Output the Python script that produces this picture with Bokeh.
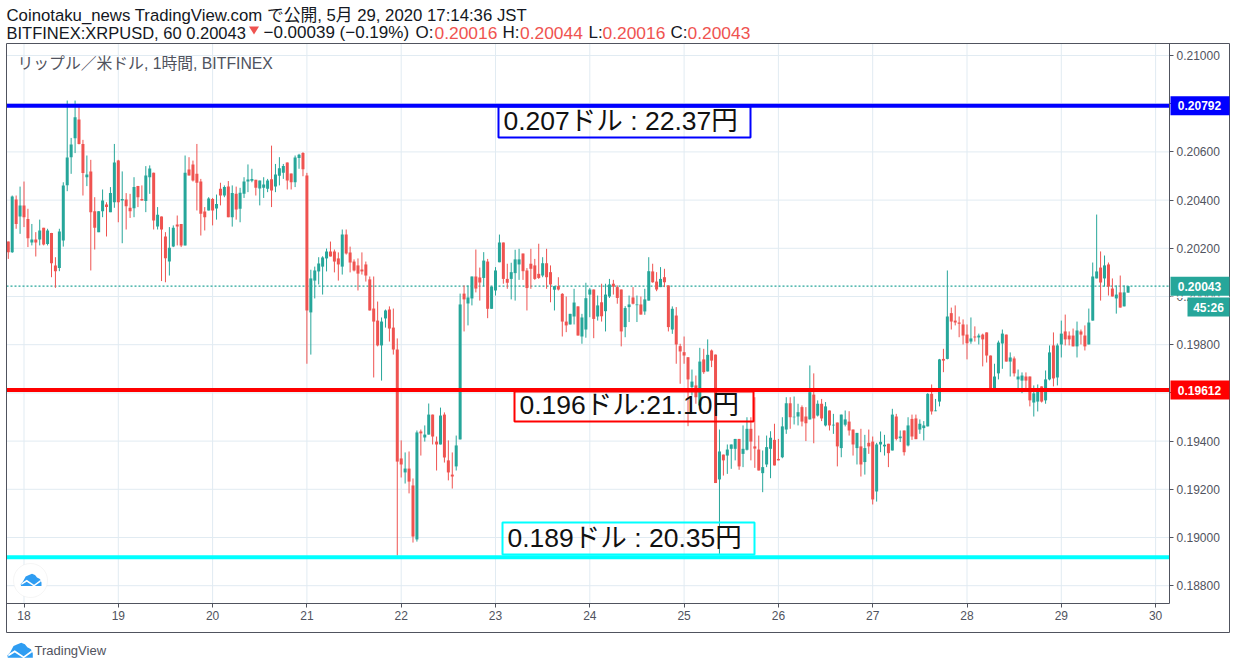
from bokeh.plotting import figure
from bokeh.embed import file_html
from bokeh.resources import INLINE
from bokeh.models import (ColumnDataSource, Range1d, LinearAxis, FixedTicker, Label,
                          BoxAnnotation, PolyAnnotation, NumeralTickFormatter)
import math

# prices in units of 0.00001 USD, one entry per hourly candle
opens = [
20228,20184,20402,20332,20378,20322,20224,20236,20236,20285,20218,20264,20129,20118,20232,20462,20578,20657,20734,20633,
20495,20519,20354,20267,20354,20382,20350,20391,20564,20398,20402,20368,20366,20459,20405,20396,20495,20514,20290,20332,
20249,20145,20207,20299,20301,20212,20527,20548,20509,20477,20353,20357,20405,20365,20447,20419,20456,20329,20426,20364,
20426,20477,20480,20484,20448,20451,20447,20487,20456,20501,20513,20556,20510,20474,20575,20595,20502,19934,20066,20104,
20124,20158,20187,20187,20158,20124,20257,20183,20145,20129,20112,20133,20071,19950,19900,19797,19909,19946,19871,19780,
19328,19270,19286,19216,18992,19440,19415,19427,19510,19398,19386,19510,19320,19261,19295,19407,20012,19971,19992,20083,
20079,20077,20145,19949,20025,20142,20224,20073,20073,20097,20133,20178,20108,20136,20129,20094,20087,20138,20101,20028,
20043,20011,19896,19884,19917,19959,19834,19863,20008,20029,19917,19976,19939,20000,20053,20039,20029,19873,19956,19996,
19964,19967,19938,19983,20104,20062,20039,20080,20046,19863,19921,19794,19769,19748,19624,19631,19548,19739,19689,19776,
19759,19241,19344,19340,19368,19368,19409,19347,19364,19451,19378,19365,19267,19303,19368,19405,19326,19333,19448,19557,
19499,19502,19541,19502,19490,19593,19506,19555,19465,19527,19465,19477,19371,19468,19481,19448,19371,19378,19313,19393,
19398,19191,19386,19378,19389,19361,19502,19412,19444,19382,19492,19494,19448,19454,19461,19596,19524,19564,19741,19741,
19931,19900,19892,19884,19842,19813,19834,19830,19842,19851,19755,19610,19681,19805,19842,19730,19743,19656,19651,19668,
19668,19560,19564,19627,19569,19656,19797,19664,19801,19855,19838,19838,19793,19855,19838,19801,19900,20075,20120,20075,
20133,20033,19992,20017,19959,20016]
closes = [
20184,20415,20301,20378,20329,20242,20236,20224,20274,20216,20274,20138,20105,20270,20461,20577,20631,20744,20633,20512,
20506,20350,20285,20354,20398,20371,20429,20556,20391,20405,20375,20354,20454,20412,20398,20502,20531,20315,20339,20278,
20159,20202,20285,20290,20212,20514,20502,20481,20472,20343,20329,20407,20357,20384,20419,20454,20329,20429,20361,20430,
20477,20485,20488,20451,20481,20465,20481,20440,20506,20532,20541,20481,20474,20577,20588,20528,19942,20075,20108,20137,
20162,20187,20166,20145,20133,20257,20178,20141,20108,20095,20104,20087,19942,19896,19797,19896,19942,19867,19780,19315,
19303,19286,19232,19004,19436,19432,19427,19510,19419,19386,19506,19332,19270,19253,19382,19967,19988,19996,20083,20033,
20058,20149,19949,20041,20108,20224,20073,20057,20101,20154,20154,20105,20035,20115,20073,20077,20138,20080,20050,20043,
20029,19896,19880,19928,19975,19838,19913,19993,20029,19907,19963,19918,20008,20050,20041,19994,19855,19952,19967,19970,
19967,19925,19988,20105,20059,20029,20073,20059,19873,19949,19801,19772,19755,19656,19647,19582,19730,19686,19758,19734,
19226,19357,19320,19365,19386,19409,19295,19368,19451,19398,19369,19278,19292,19375,19414,19299,19320,19461,19557,19499,
19501,19520,19481,19474,19603,19494,19555,19494,19544,19465,19468,19378,19510,19490,19444,19386,19434,19303,19371,19378,
19158,19386,19397,19385,19350,19510,19409,19419,19354,19465,19419,19408,19472,19465,19596,19523,19527,19739,19734,19917,
19896,19892,19887,19838,19806,19826,19830,19838,19822,19755,19617,19668,19809,19846,19730,19747,19681,19668,19672,19651,
19569,19598,19610,19564,19656,19768,19660,19797,19846,19822,19822,19793,19859,19842,19793,19892,20083,20104,20058,20129,
20041,20000,20008,19954,20017,20043]
highs = [
20228,20419,20419,20456,20477,20364,20301,20267,20319,20285,20281,20264,20163,20281,20474,20813,20658,20813,20786,20650,
20585,20567,20412,20354,20444,20391,20454,20633,20567,20519,20429,20426,20495,20459,20461,20541,20544,20514,20371,20332,
20267,20288,20295,20336,20301,20585,20578,20564,20633,20488,20371,20412,20409,20423,20472,20461,20479,20461,20456,20451,
20495,20548,20530,20484,20481,20495,20488,20626,20550,20578,20550,20556,20510,20585,20592,20599,20513,20111,20124,20163,
20167,20199,20228,20195,20183,20278,20278,20207,20154,20158,20183,20145,20083,20083,19979,19913,19946,19959,19950,19826,
19403,19353,19357,19245,19444,19448,19465,19556,19510,19419,19539,19519,19403,19353,19423,20012,20046,20046,20083,20195,
20120,20184,20156,20041,20122,20257,20224,20136,20140,20194,20198,20178,20118,20198,20156,20219,20163,20198,20129,20043,
20080,20014,20000,19928,20032,19959,19928,20057,20035,20029,20004,20053,20053,20073,20069,20046,20029,19960,20004,20039,
20004,20000,20032,20163,20136,20101,20122,20115,20046,19959,19956,19804,19834,19748,19697,19672,19787,19783,19822,19780,
19759,19448,19344,19386,19386,19409,19409,19465,19499,19499,19582,19423,19361,19423,19441,19472,19409,19499,19582,19582,
19585,19555,19548,19541,19714,19681,19569,19575,19562,19527,19513,19477,19510,19527,19524,19448,19434,19451,19426,19448,
19419,19393,19440,19426,19389,19534,19513,19444,19444,19499,19510,19510,19490,19483,19599,19635,19575,19741,19783,20108,
19954,19963,19917,19905,19884,19913,19876,19846,19846,19851,19755,19721,19817,19863,19842,19768,19751,19697,19685,19685,
19668,19631,19635,19627,19693,19797,19851,19805,19900,19925,19855,19867,19896,19863,19880,19950,20141,20340,20187,20170,
20141,20075,20046,20087,20046,20044]
lows = [
20156,20181,20281,20260,20288,20205,20212,20166,20212,20212,20212,20080,20036,20105,20207,20437,20509,20595,20631,20419,
20458,20108,20195,20267,20329,20249,20350,20368,20308,20221,20278,20326,20329,20371,20398,20350,20426,20278,20278,20064,
20059,20087,20205,20212,20205,20212,20502,20477,20357,20253,20274,20357,20295,20319,20378,20412,20329,20290,20319,20308,
20409,20433,20474,20419,20378,20409,20433,20371,20433,20461,20488,20444,20444,20454,20530,20499,19721,19759,19992,20050,
20008,20104,20166,20100,20066,20091,20174,20100,20104,20025,20091,20062,19942,19664,19793,19651,19871,19813,19759,18925,
19249,19224,19183,18979,18983,19340,19398,19427,19386,19278,19386,19311,19237,19203,19278,19407,19855,19880,19963,20017,
19983,20043,19910,19949,20004,20142,20053,20032,19988,19983,20069,20069,19942,20032,20069,20073,20080,20032,19976,19942,
20025,19834,19852,19884,19884,19838,19804,19829,19914,19827,19900,19896,19855,19994,20008,19970,19793,19831,19894,19967,
19894,19925,19924,19983,20057,20022,20039,20039,19855,19845,19721,19638,19721,19462,19589,19555,19548,19679,19689,19707,
19226,18932,19257,19264,19285,19320,19281,19292,19361,19320,19289,19278,19188,19292,19246,19299,19320,19329,19430,19451,
19469,19465,19461,19400,19490,19391,19502,19483,19461,19444,19430,19295,19333,19461,19423,19340,19303,19253,19261,19347,
19137,19149,19354,19340,19292,19361,19403,19396,19340,19378,19405,19408,19430,19403,19461,19510,19524,19544,19686,19739,
19863,19880,19831,19801,19739,19804,19813,19801,19710,19726,19610,19610,19656,19700,19730,19668,19668,19620,19599,19617,
19544,19502,19523,19560,19555,19652,19627,19631,19747,19797,19797,19793,19747,19801,19776,19801,19900,20075,19983,20041,
20004,20000,19929,19954,19959,20016]

day_ticks = [18, 19, 20, 21, 22, 23, 24, 25, 26, 27, 28, 29, 30]
price_ticks = [0.188, 0.190, 0.192, 0.194, 0.196, 0.198, 0.200, 0.202, 0.204, 0.206, 0.208, 0.210]
first_day = 18.0
hours_before_first_day = 4
resistance = 0.20792
middle = 0.19612
support = 0.18918
last_price = 0.20043

GREEN = "#26a69a"
RED = "#ef5350"
GRID = "#e1ebf2"
AXIS = "#50535e"
INK = "#131722"
TXT = "Liberation Sans, Noto Sans CJK JP"

W, H = 1236, 669
FL, FR, FT, FB = 6, 1169, 43, 603          # chart pane in page pixels
PX_DAY = 94.3
PX_PRICE = 24100.0

n = min(len(opens), len(closes), len(highs), len(lows))
days = [first_day + (i - hours_before_first_day) / 24 for i in range(n)]
o = [v / 1e5 for v in opens[:n]]
c = [v / 1e5 for v in closes[:n]]
h = [v / 1e5 for v in highs[:n]]
l = [v / 1e5 for v in lows[:n]]
col = [GREEN if c[i] >= o[i] else RED for i in range(n)]
src = ColumnDataSource(dict(d=days, o=o, c=c, h=h, l=l, col=col))

def day_at(px): return first_day + (px - 23.5) / PX_DAY
def price_at(py): return 0.21 - (py - 55) / PX_PRICE

# the plotting frame fills the whole page so that the header and the scales can be drawn on it
p = figure(width=W, height=H, output_backend="svg", toolbar_location=None,
           x_range=Range1d(day_at(0), day_at(W)), y_range=Range1d(price_at(H), price_at(0)),
           x_axis_location=None, y_axis_location=None,
           min_border_left=0, min_border_right=0, min_border_top=0, min_border_bottom=0,
           background_fill_color="white", border_fill_color="white")
p.outline_line_color = None
p.xgrid.visible = False; p.ygrid.visible = False

def style_axis(a):
    a.major_tick_in = 0; a.major_tick_out = 4; a.minor_tick_line_color = None
    a.axis_line_color = AXIS; a.major_tick_line_color = AXIS
    a.major_label_text_color = AXIS; a.major_label_text_font = TXT
    a.major_label_text_font_size = "12px"; a.major_label_standoff = 3

ax = LinearAxis(ticker=FixedTicker(ticks=price_ticks), formatter=NumeralTickFormatter(format="0.00000"),
                fixed_location=day_at(FR), bounds=(price_at(FB), price_at(FT)))
style_axis(ax)
p.add_layout(ax, "right")

bx = LinearAxis(ticker=FixedTicker(ticks=day_ticks), fixed_location=price_at(FB), bounds=(day_at(FL), day_at(FR)))
style_axis(bx)
p.add_layout(bx, "below")

pane_l, pane_r, pane_t, pane_b = day_at(FL), day_at(FR), price_at(FT), price_at(FB)
p.segment(day_ticks, pane_b, day_ticks, pane_t, line_color=GRID, line_width=1, level="underlay")
p.segment(pane_l, price_ticks, pane_r, price_ticks, line_color=GRID, line_width=1, level="underlay")
p.segment(pane_l, [last_price], pane_r, [last_price], line_color=GREEN, line_width=1.3, line_dash="2 2", level="underlay")

p.segment("d", "h", "d", "l", source=src, color="col", line_width=1)
p.vbar(x="d", width=3.0 / PX_DAY, top="o", bottom="c", source=src, fill_color="col", line_color=None)

for lvl, colr in ((resistance, "#0000ff"), (middle, "#ff0000"), (support, "#00ffff")):
    p.segment(pane_l, [lvl], pane_r, [lvl], line_color=colr, line_width=4)

def sy(py): return H - py

def box(xa, ya, xb, yb, fill=None, line=None, lw=0):
    p.add_layout(BoxAnnotation(left=xa, right=xb, top=sy(ya), bottom=sy(yb),
                               left_units="screen", right_units="screen", top_units="screen", bottom_units="screen",
                               fill_color=fill, fill_alpha=1 if fill else 0,
                               line_color=line, line_width=lw, line_alpha=1 if line else 0, level="overlay"))

def text(px, py, s, size, color, font=TXT, style="normal", align="left"):
    p.add_layout(Label(x=px, y=sy(py), x_units="screen", y_units="screen", text=s, text_color=color,
                       text_font=font, text_font_size=f"{size}px", text_font_style=style,
                       text_align=align, text_baseline="middle", level="overlay"))

def poly(xs, ys, fill=None, line=None, lw=1):
    p.add_layout(PolyAnnotation(xs=list(xs), ys=[sy(b) for b in ys], xs_units="screen", ys_units="screen",
                                fill_color=fill, fill_alpha=1 if fill else 0, line_color=line, line_width=lw,
                                level="overlay"))

def tag(price, s, color):
    yc = 55 + (0.21 - price) * PX_PRICE
    box(1170, yc - 9.5, 1229, yc + 9.5, fill=color)
    text(1199, yc, s, 12, "white", style="bold", align="center")

# outer frame of the pane and scales
box(FL, FT, 1229, 632, line=AXIS, lw=1)

tag(resistance, "0.20792", "#0000ff")
tag(middle, "0.19612", "#ff0000")
tag(last_price, "0.20043", GREEN)
box(1170, 296, 1229, 297.5, fill="white")
box(1187, 297, 1229, 316, fill=GREEN)
text(1208, 307, "45:26", 12, "white", style="bold", align="center")

# header
text(6, 15, "Coinotaku_news TradingView.com で公開, 5月 29, 2020 17:14:36 JST", 16.75, INK)
text(6, 32, "BITFINEX:XRPUSD, 60 0.20043", 16.5, INK)
poly([248.5, 258.5, 253.5], [26, 26, 34], fill=RED)
text(263, 32, "−0.00039 (−0.19%)", 17, INK)
text(415, 32, "O:", 17, INK)
text(434, 32, "0.20016", 17.4, RED)
text(502, 32, "H:", 17, INK)
text(519.5, 32, "0.20044", 17.4, RED)
text(588, 32, "L:", 17, INK)
text(602, 32, "0.20016", 17.4, RED)
text(670, 32, "C:", 17, INK)
text(687, 32, "0.20043", 17.4, RED)
text(17, 63, "リップル／米ドル, 1時間, BITFINEX", 15.8, AXIS)

# annotation boxes
box(498, 106, 750, 137, line="#0000ff", lw=2)
text(503, 120, "0.207ドル : 22.37円", 26.5, "#111111")
box(514, 391, 753, 421, line="#ff0000", lw=2)
text(519, 404, "0.196ドル:21.10円", 26.5, "#111111")
box(502, 522, 754, 554, line="#00ffff", lw=2)
text(507, 537, "0.189ドル : 20.35円", 26.5, "#111111")

# logos
poly([30 + 17 * math.cos(t * math.pi / 24) for t in range(48)],
     [580 + 17 * math.sin(t * math.pi / 24) for t in range(48)], fill="white", line="#dddddd")

def cloud(cx, cy, k, fill):
    shape = [(-10, 5.6), (-10.3, 3.5), (-8, 1), (-5.3, -4), (-2, -5.5), (1, -6.7), (4, -5.5), (6, -3),
             (9, -1.5), (10.5, 2), (10.5, 5.6)]
    zig = [(-9.6, 2.7), (-4.3, -0.7), (3, 4.3), (9.7, -0.7), (9.7, 1.2), (3, 6), (-4.3, 1.3), (-9.6, 4.5)]
    for pts, colr in ((shape, fill), (zig, "white")):
        poly([cx + a * k for a, b in pts], [cy + b * k for a, b in pts], fill=colr)

cloud(30.5, 580, 1.0, "#2f9df2")
cloud(19.5, 650.5, 1.22, "#2f9df2")
text(34, 650, "TradingView", 13, AXIS)

open("out.html", "w").write(file_html(p, INLINE))
